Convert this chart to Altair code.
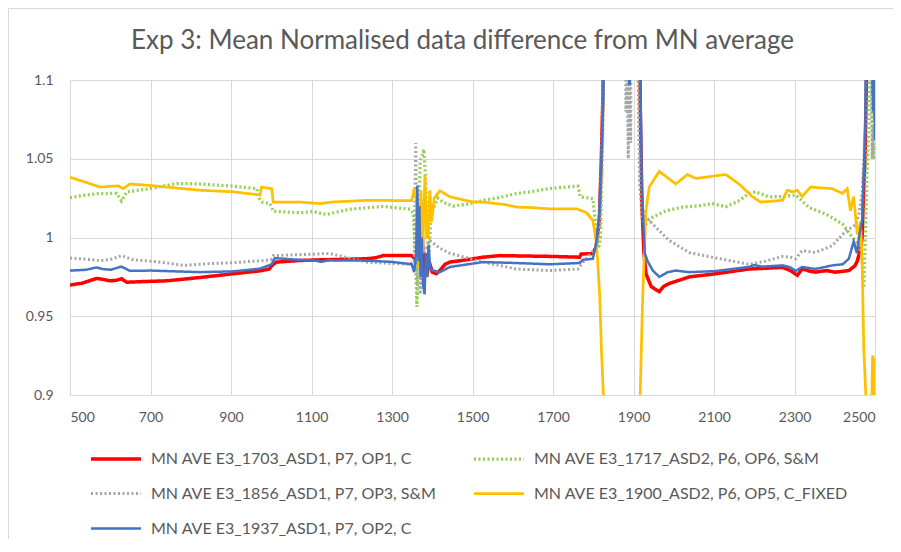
import altair as alt
import pandas as pd

names = [
    "MN AVE E3_1703_ASD1, P7, OP1, C",
    "MN AVE E3_1717_ASD2, P6, OP6, S&M",
    "MN AVE E3_1856_ASD1, P7, OP3, S&M",
    "MN AVE E3_1900_ASD2, P6, OP5, C_FIXED",
    "MN AVE E3_1937_ASD1, P7, OP2, C",
]
colors = ["#FF0000", "#92D050", "#A5A5A5", "#FFC000", "#4472C4"]
dashes = [[1, 0], [2, 2.5], [2, 2.5], [1, 0], [1, 0]]
widths = [3.5, 2.5, 2, 3.5, 3]

x_1703 = [500, 530, 566, 580, 599, 615, 628, 641, 680, 740, 823, 906, 972, 995, 1003, 1013, 1071, 1121, 1237, 1260, 1278, 1349,
          1355, 1360, 1365, 1369, 1372, 1375, 1378, 1382, 1386, 1392, 1400, 1410, 1419, 1432, 1444, 1490, 1526, 1568, 1692, 1766,
          1770, 1799, 1807, 1815, 1820, 1824, 1828, 1840, 1905, 1913, 1917, 1921, 1926, 1931, 1944, 1964, 1975, 1989, 2039, 2105,
          2187, 2230, 2270, 2290, 2307, 2319, 2340, 2352, 2380, 2400, 2420, 2435, 2450, 2456, 2464, 2468, 2472, 2475, 2478, 2482,
          2492, 2495, 2497, 2500]
y_1703 = [0.9698, 0.971, 0.974, 0.9735, 0.9725, 0.9728, 0.9738, 0.9716, 0.972, 0.9725, 0.9746, 0.977, 0.9788, 0.980, 0.9825,
          0.9844, 0.9854, 0.9858, 0.9865, 0.9872, 0.9885, 0.9885, 0.987, 0.983, 0.995, 1.017, 0.99, 1.005, 0.977, 0.99, 0.975,
          0.985, 0.978, 0.977, 0.979, 0.983, 0.9844, 0.986, 0.9875, 0.9885, 0.988, 0.9875, 0.9895, 0.9898, 0.994, 1.01, 1.049,
          1.09, 1.2, 1.5, 1.5, 1.2, 1.08, 1.02, 0.99, 0.977, 0.9688, 0.9656, 0.969, 0.9708, 0.975, 0.977, 0.980, 0.9805, 0.981,
          0.979, 0.976, 0.980, 0.9785, 0.978, 0.979, 0.978, 0.9785, 0.979, 0.982, 0.985, 0.993, 1.0, 1.03, 1.05, 1.09, 1.15,
          1.15, 1.09, 1.12, 1.075]

x_1717 = [500, 540, 575, 616, 628, 641, 699, 765, 823, 906, 964, 970, 977, 997, 1005, 1071, 1104, 1137, 1196, 1278, 1345,
          1353, 1358, 1362, 1366, 1370, 1375, 1379, 1383, 1388, 1392, 1396, 1402, 1414, 1427, 1452, 1490, 1526, 1560, 1609,
          1645, 1692, 1762, 1768, 1799, 1807, 1813, 1818, 1824, 1830, 1905, 1912, 1917, 1924, 1931, 1948, 1981, 2022, 2060,
          2096, 2129, 2160, 2187, 2203, 2237, 2270, 2303, 2336, 2377, 2419, 2444, 2464, 2468, 2472, 2476, 2480, 2485, 2488,
          2491, 2494, 2497, 2500]
y_1717 = [1.0253, 1.027, 1.0279, 1.028, 1.0232, 1.029, 1.031, 1.0343, 1.034, 1.0326, 1.031, 1.025, 1.0225, 1.0215, 1.0167,
          1.0157, 1.0165, 1.0146, 1.018, 1.0197, 1.018, 1.015, 0.99, 0.956, 1.01, 1.049, 1.052, 1.056, 1.04, 1.0, 0.99, 1.01,
          1.018, 1.025, 1.0223, 1.020, 1.0212, 1.0236, 1.025, 1.0279, 1.029, 1.0311, 1.0326, 1.0258, 1.0247, 1.006, 0.993,
          1.0, 1.07, 1.3, 1.3, 1.1, 1.03, 1.01, 1.0086, 1.013, 1.017, 1.0193, 1.020, 1.0215, 1.0195, 1.023, 1.028, 1.029,
          1.0258, 1.026, 1.027, 1.019, 1.015, 1.0086, 1.0, 0.9936, 0.985, 0.968, 1.0, 1.04, 1.07, 1.2, 1.2, 1.05, 1.06, 1.05]

x_1856 = [500, 540, 575, 600, 628, 657, 700, 740, 782, 850, 906, 980, 1000, 1005, 1060, 1121, 1133, 1150, 1237, 1300, 1345,
          1355, 1359, 1362, 1366, 1370, 1375, 1380, 1394, 1420, 1444, 1526, 1609, 1692, 1762, 1774, 1807, 1815, 1820, 1825,
          1830, 1878, 1881, 1884, 1887, 1890, 1893, 1896, 1905, 1912, 1915, 1920, 1931, 1956, 1989, 2039, 2105, 2187, 2228,
          2270, 2290, 2303, 2319, 2352, 2394, 2427, 2452, 2460, 2468, 2476, 2480, 2490, 2493, 2496, 2500]
y_1856 = [0.987, 0.9862, 0.9854, 0.986, 0.9885, 0.9858, 0.985, 0.9838, 0.9823, 0.9835, 0.984, 0.9854, 0.986, 0.9885, 0.989,
          0.9896, 0.990, 0.9895, 0.9844, 0.9835, 0.983, 0.985, 1.06, 0.97, 0.99, 0.964, 1.0, 0.99, 0.998, 0.993, 0.990, 0.9844,
          0.980, 0.979, 0.980, 0.9842, 0.9935, 1.01, 1.05, 1.1, 1.3, 1.3, 1.08, 1.1, 1.05, 1.1, 1.06, 1.3, 1.3, 1.1, 1.035,
          1.02, 1.013, 1.0064, 0.998, 0.9904, 0.987, 0.983, 0.985, 0.988, 0.9875, 0.9865, 0.9917, 0.9905, 0.9948, 1.004,
          1.008, 1.015, 1.028, 1.07, 1.2, 1.2, 1.05, 1.07, 1.05]

x_1900 = [500, 540, 575, 600, 620, 632, 649, 700, 740, 823, 906, 972, 976, 1001, 1005, 1071, 1121, 1150, 1237, 1349, 1355,
          1360, 1365, 1368, 1372, 1376, 1382, 1386, 1390, 1394, 1398, 1405, 1419, 1444, 1500, 1526, 1579, 1609, 1646, 1692,
          1758, 1782, 1799, 1807, 1811, 1816, 1820, 1826, 1832, 1910, 1916, 1923, 1931, 1939, 1964, 2005, 2034, 2055, 2129,
          2162, 2195, 2216, 2270, 2282, 2295, 2307, 2319, 2340, 2394, 2419, 2431, 2439, 2447, 2456, 2464, 2468, 2472, 2478,
          2484, 2490, 2492, 2494, 2497, 2500]
y_1900 = [1.0382, 1.035, 1.032, 1.0325, 1.0328, 1.031, 1.034, 1.033, 1.032, 1.030, 1.029, 1.027, 1.032, 1.031, 1.0225,
          1.0225, 1.0215, 1.0225, 1.0236, 1.0234, 1.031, 1.025, 0.995, 0.98, 1.03, 0.99, 1.04, 1.0, 1.0, 1.03, 1.01, 1.025,
          1.0297, 1.0258, 1.0226, 1.0225, 1.021, 1.0193, 1.019, 1.0182, 1.0182, 1.016, 1.011, 0.998, 0.985, 0.9635, 0.931,
          0.895, 0.7, 0.7, 0.895, 0.9635, 1.017, 1.032, 1.042, 1.034, 1.040, 1.0375, 1.040, 1.034, 1.026, 1.0225, 1.0236,
          1.030, 1.029, 1.030, 1.026, 1.032, 1.031, 1.028, 1.031, 1.017, 1.026, 1.002, 1.01, 0.985, 0.931, 0.895, 0.7, 0.7,
          0.895, 0.925, 0.922, 0.895]

x_1937 = [500, 540, 566, 580, 600, 628, 649, 700, 823, 906, 972, 1001, 1009, 1071, 1112, 1125, 1140, 1237, 1300, 1349, 1355,
          1360, 1363, 1366, 1368, 1371, 1374, 1377, 1381, 1384, 1387, 1391, 1395, 1402, 1419, 1444, 1526, 1609, 1692, 1766,
          1774, 1799, 1807, 1815, 1820, 1825, 1830, 1840, 1886, 1889, 1891, 1893, 1905, 1913, 1917, 1921, 1928, 1935, 1948,
          1964, 1985, 2005, 2039, 2105, 2187, 2200, 2220, 2270, 2290, 2303, 2319, 2352, 2394, 2420, 2435, 2447, 2455, 2460,
          2468, 2472, 2476, 2480, 2492, 2495, 2497, 2500]
y_1937 = [0.979, 0.9795, 0.981, 0.980, 0.9795, 0.9815, 0.9788, 0.979, 0.978, 0.9785, 0.9802, 0.983, 0.9869, 0.9858, 0.9852,
          0.9845, 0.9855, 0.9853, 0.9845, 0.983, 0.978, 0.99, 1.033, 0.985, 1.02, 0.975, 1.0, 0.97, 0.964, 0.99, 0.975, 0.995,
          0.98, 0.979, 0.978, 0.9813, 0.9844, 0.9838, 0.983, 0.9838, 0.9858, 0.9865, 0.9958, 1.015, 1.049, 1.09, 1.2, 1.5,
          1.5, 1.098, 1.097, 1.5, 1.5, 1.2, 1.1, 1.03, 0.99, 0.985, 0.979, 0.975, 0.978, 0.979, 0.978, 0.9787, 0.9813, 0.9825,
          0.9815, 0.9823, 0.981, 0.9787, 0.9813, 0.980, 0.9823, 0.983, 0.9865, 0.9975, 0.99, 1.0, 1.011, 1.04, 1.07, 1.2, 1.2,
          1.08, 1.15, 1.062]

x_ticks = list(range(500, 2501, 200))
y_ticks = [0.9, 0.95, 1.0, 1.05, 1.1]

series_x = [x_1703, x_1717, x_1856, x_1900, x_1937]
series_y = [y_1703, y_1717, y_1856, y_1900, y_1937]
rows = []
for name, xs, ys in zip(names, series_x, series_y):
    for xv, yv in zip(xs, ys):
        rows.append({"series": name, "wl": xv, "val": yv})
df = pd.DataFrame(rows)

FONT = "Lato"
TEXT = "#595959"
GRID = "#D9D9D9"

legend = alt.Legend(
    title=None, orient="none", legendX=19, legendY=352, columns=2, direction="horizontal",
    symbolType="stroke", symbolSize=2500, labelFontSize=16, labelColor=TEXT,
    labelFont=FONT, labelLimit=0, labelOffset=8, columnPadding=30,
    rowPadding=-17, padding=0,
)

lines = alt.Chart(df).mark_line(clip=True).encode(
    x=alt.X("wl:Q", scale=alt.Scale(domain=[500, 2500], nice=False, zero=False),
            axis=alt.Axis(values=x_ticks, title=None, format="d")),
    y=alt.Y("val:Q", scale=alt.Scale(domain=[0.9, 1.1], nice=False, zero=False),
            axis=alt.Axis(values=y_ticks, title=None, format="~g")),
    color=alt.Color("series:N", scale=alt.Scale(domain=names, range=colors), legend=legend),
    strokeDash=alt.StrokeDash("series:N", scale=alt.Scale(domain=names, range=dashes), legend=legend),
    strokeWidth=alt.StrokeWidth("series:N", scale=alt.Scale(domain=names, range=widths), legend=legend),
)

border = alt.Chart(alt.Data(values=[{}])).mark_rect(
    fill=None, stroke=GRID, strokeWidth=1, clip=False
).encode(
    x=alt.value(-61.5), x2=alt.value(840), y=alt.value(-71.5), y2=alt.value(480)
)

chart = alt.layer(border, lines).properties(
    width=805, height=315,
    title=alt.TitleParams(
        "Exp 3: Mean Normalised data difference from MN average",
        font=FONT, fontSize=26, fontWeight="normal", color=TEXT, anchor="middle",
        offset=0, dy=46, dx=-10,
    ),
    autosize=alt.AutoSizeParams(type="none"),
    padding={"left": 62, "top": 72, "right": 18, "bottom": 144},
).configure_axis(
    labelFont=FONT, labelFontSize=14, labelColor=TEXT, gridColor=GRID, domain=False,
    ticks=False, labelPadding=15,
).configure_axisY(labelPadding=17).configure_view(stroke=None)

chart.save("out.html", embed_options={"renderer": "svg", "actions": False})
